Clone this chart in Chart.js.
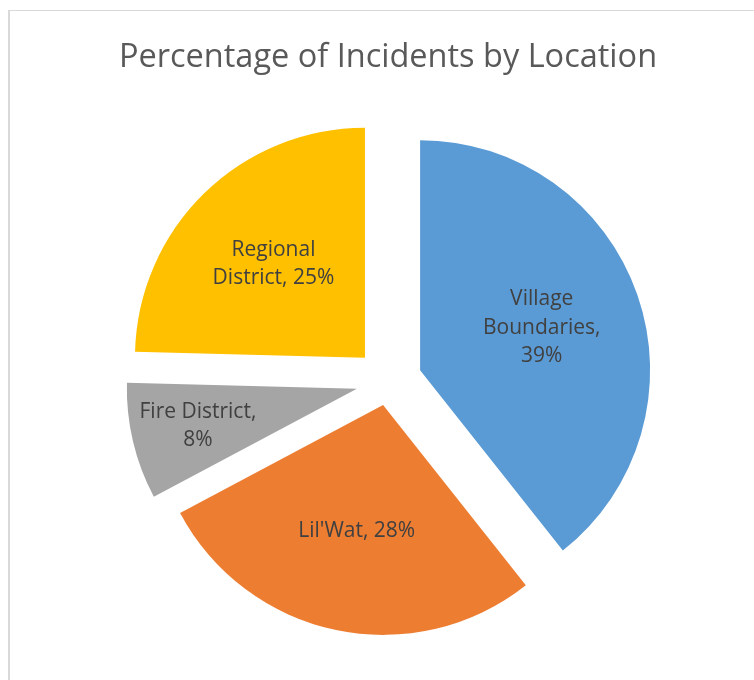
<!DOCTYPE html>
<html>
<head>
<meta charset="utf-8">
<script src="https://cdn.jsdelivr.net/npm/chart.js@4"></script>
<style>
    html, body { margin: 0; padding: 0; background: #fff; overflow: hidden; }
    .frame {
        position: absolute;
        left: 8px; top: 10px; right: -20px; bottom: -20px;
        border-left: 2px solid #d9d9d9;
        border-top: 1px solid #d9d9d9;
    }
    .wrap { position: absolute; left: 0; top: 0; width: 754px; height: 680px; }
</style>
</head>
<body>
<div class="frame"></div>
<div class="wrap"><canvas id="locationChart"></canvas></div>
<script>
// incidents counted per location
const locations = ['Village Boundaries', "Lil'Wat", 'Fire District', 'Regional District'];
const incidents = [24, 17, 5, 15];
const sliceColours = ['#5B9BD5', '#ED7D31', '#A5A5A5', '#FFC000'];

// how far each slice is pulled out, and where its label sits (fraction of radius)
const explodeBy = [34, 24, 32, 33];
const labelRadius = [0.56, 0.56, 0.71, 0.57];

const explodePlugin = {
    id: 'explode',
    afterDatasetsUpdate(chart) {
        chart.getDatasetMeta(0).data.forEach((arc, i) => {
            const mid = (arc.startAngle + arc.endAngle) / 2;
            arc.x += Math.cos(mid) * explodeBy[i];
            arc.y += Math.sin(mid) * explodeBy[i];
        });
    }
};

function wrapText(ctx, text, maxWidth) {
    const words = text.split(' ');
    const lines = [];
    let line = '';
    words.forEach(w => {
        const test = line ? line + ' ' + w : w;
        if (line && ctx.measureText(test).width > maxWidth) {
            lines.push(line);
            line = w;
        } else {
            line = test;
        }
    });
    lines.push(line);
    return lines;
}

const sliceLabels = {
    id: 'sliceLabels',
    afterDatasetsDraw(chart) {
        const ctx = chart.ctx;
        const total = incidents.reduce((a, b) => a + b, 0);
        ctx.save();
        ctx.font = '21px "Open Sans"';
        ctx.fillStyle = '#404040';
        ctx.textAlign = 'center';
        ctx.textBaseline = 'middle';
        chart.getDatasetMeta(0).data.forEach((arc, i) => {
            const mid = (arc.startAngle + arc.endAngle) / 2;
            const r = arc.outerRadius * labelRadius[i];
            const x = arc.x + Math.cos(mid) * r;
            const y = arc.y + Math.sin(mid) * r;
            const pct = Math.round(incidents[i] / total * 100) + '%';
            const lines = wrapText(ctx, locations[i] + ', ' + pct, 132);
            const lh = 28.5;
            lines.forEach((ln, k) => {
                ctx.fillText(ln, x, y + (k - (lines.length - 1) / 2) * lh);
            });
        });
        ctx.restore();
    }
};

const canvas = document.getElementById('locationChart');
new Chart(canvas.getContext('2d'), {
    type: 'pie',
    data: {
        labels: locations,
        datasets: [{
            data: incidents,
            backgroundColor: sliceColours,
            borderWidth: 0,
            hoverOffset: 0,
            offset: 0
        }]
    },
    options: {
        animation: false,
        responsive: true,
        maintainAspectRatio: false,
        layout: {
            padding: { top: 0, left: 22, right: 0, bottom: 68.6 }
        },
        plugins: {
            legend: { display: false },
            tooltip: { enabled: false },
            title: {
                display: true,
                text: 'Percentage of Incidents by Location',
                color: '#595959',
                font: { family: 'Open Sans', size: 32.5, weight: 'normal' },
                padding: { top: 38, bottom: 74.4 }
            }
        }
    },
    plugins: [explodePlugin, sliceLabels]
});
</script>
</body>
</html>
